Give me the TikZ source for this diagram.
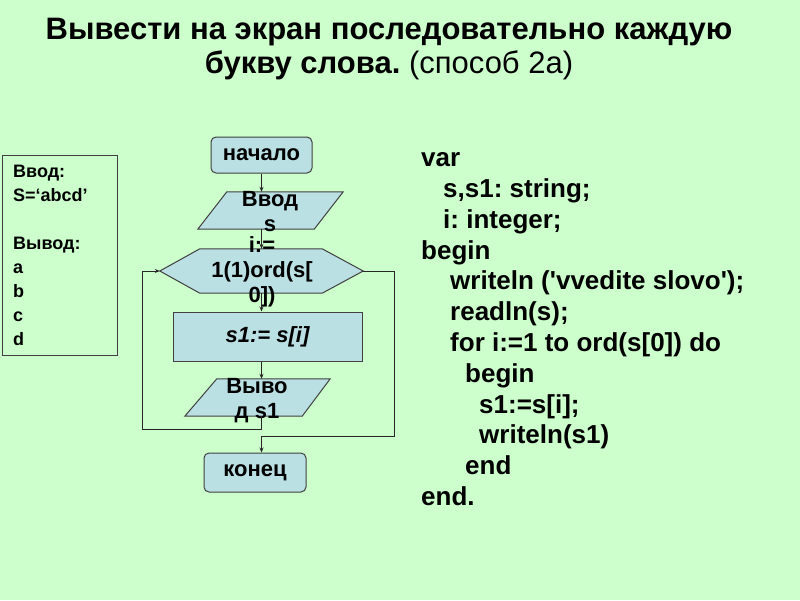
\documentclass[tikz,border=0pt]{standalone}
\usepackage{fontspec}
\setmainfont{Liberation Sans}
\usetikzlibrary{calc,arrows.meta,backgrounds}
\definecolor{bg}{HTML}{CCFFCC}
\definecolor{shfill}{HTML}{BBE0E3}
\definecolor{shdraw}{HTML}{404040}
\frenchspacing
\tikzset{
  frame/.style={inner sep=0pt, minimum width=#1},
  ftext/.style={font=\fontsize{22}{25}\selectfont\bfseries, align=center, inner sep=0pt},
  shapebox/.style={fill=shfill, draw=shdraw, line width=1pt},
  conn/.style={draw=black!85, line width=0.8pt},
  arr/.style={conn, -{Stealth[length=5pt,width=4pt]}},
}
\begin{document}
\frenchspacing
\begin{tikzpicture}[x=1pt,y=-1pt]
\fill[bg] (0,0) rectangle (800,600);
\useasboundingbox (0,0) rectangle (800,600);

% title
\node[anchor=north, align=center, inner sep=0pt,
      font=\fontsize{31}{34}\selectfont\bfseries] (title) at (389,18)
  {Вывести на экран последовательно каждую\\букву слова. {\mdseries(способ 2а)}};

% left box
\node[frame=115pt, minimum height=200pt, draw=shdraw, line width=1pt] (io) at (59.5,255) {};
\node[anchor=north west, align=left, inner sep=0pt,
      font=\fontsize{18}{24}\selectfont\bfseries] (iotext) at (13,165)
  {Ввод:\\S=‘abcd’\\[24pt]Вывод:\\a\\b\\c\\d};

% start
\node[shapebox, rounded corners=5pt, frame=101pt, minimum height=36pt, ftext] (start) at (261.5,155) {начало};

% input
\node[frame=145pt, minimum height=37pt] (in) at (270.5,210.5) {};
\draw[shapebox] ($(in.north west)+(29,0)$) -- (in.north east) -- ($(in.south east)+(-29,0)$) -- (in.south west) -- cycle;
\node[ftext] (intext) at (270,212) {Ввод\\s};

% loop hexagon
\node[frame=203pt, minimum height=44pt] (hex) at (261.5,271) {};
\draw[shapebox] (hex.west) -- ($(hex.north west)+(40,0)$) -- ($(hex.north east)+(-41,0)$) -- (hex.east)
  -- ($(hex.south east)+(-41,0)$) -- ($(hex.south west)+(40,0)$) -- cycle;
\node[ftext] (hextext) at (262,272) {i:=\\1(1)ord(s[\\0])};

% assignment
\node[shapebox, frame=189pt, minimum height=49pt, ftext, font=\fontsize{22}{25}\selectfont\bfseries\itshape] (calc) at (267.5,336.5) {s1:= s[i]};

% output
\node[frame=145pt, minimum height=37pt] (out) at (257.5,397.5) {};
\draw[shapebox] ($(out.north west)+(32,0)$) -- (out.north east) -- ($(out.south east)+(-28,0)$) -- (out.south west) -- cycle;
\node[ftext] (outtext) at (257,401) {Выво\\д s1};

% stop
\node[shapebox, rounded corners=5pt, frame=102pt, minimum height=39pt, ftext] (stop) at (255,472.5) {конец};

% connectors
\coordinate (lp) at (142,429);
\coordinate (rp) at (394,436);
\draw[arr] (start.south) -- (start.south |- in.north);
\draw[arr] (start.south |- in.south) -- (start.south |- hex.north);
\draw[arr] (start.south |- hex.south) -- (start.south |- calc.north);
\draw[arr] (start.south |- calc.south) -- (start.south |- out.north);
\draw[arr] (start.south |- out.south) -- (start.south |- lp) -- (lp) -- (lp |- hex.west) -- (hex.west);
\draw[arr] (hex.east) -- (rp |- hex.east) -- (rp) -- (start.south |- rp) -- (start.south |- stop.north);

% code
\node[anchor=north west, align=left, inner sep=0pt,
      font=\fontsize{26}{30.8}\selectfont\bfseries] (code) at (421,152.5)
  {var\\
   \hspace*{22pt}s,s1: string;\\
   \hspace*{22pt}i: integer;\\
   begin\\
   \hspace*{29pt}writeln (\textquotesingle vvedite slovo\textquotesingle);\\
   \hspace*{29pt}readln(s);\\
   \hspace*{29pt}for i:=1 to ord(s[0]) do\\
   \hspace*{44pt}begin\\
   \hspace*{58pt}s1:=s[i];\\
   \hspace*{58pt}writeln(s1)\\
   \hspace*{44pt}end\\
   end.};
\end{tikzpicture}
\end{document}
